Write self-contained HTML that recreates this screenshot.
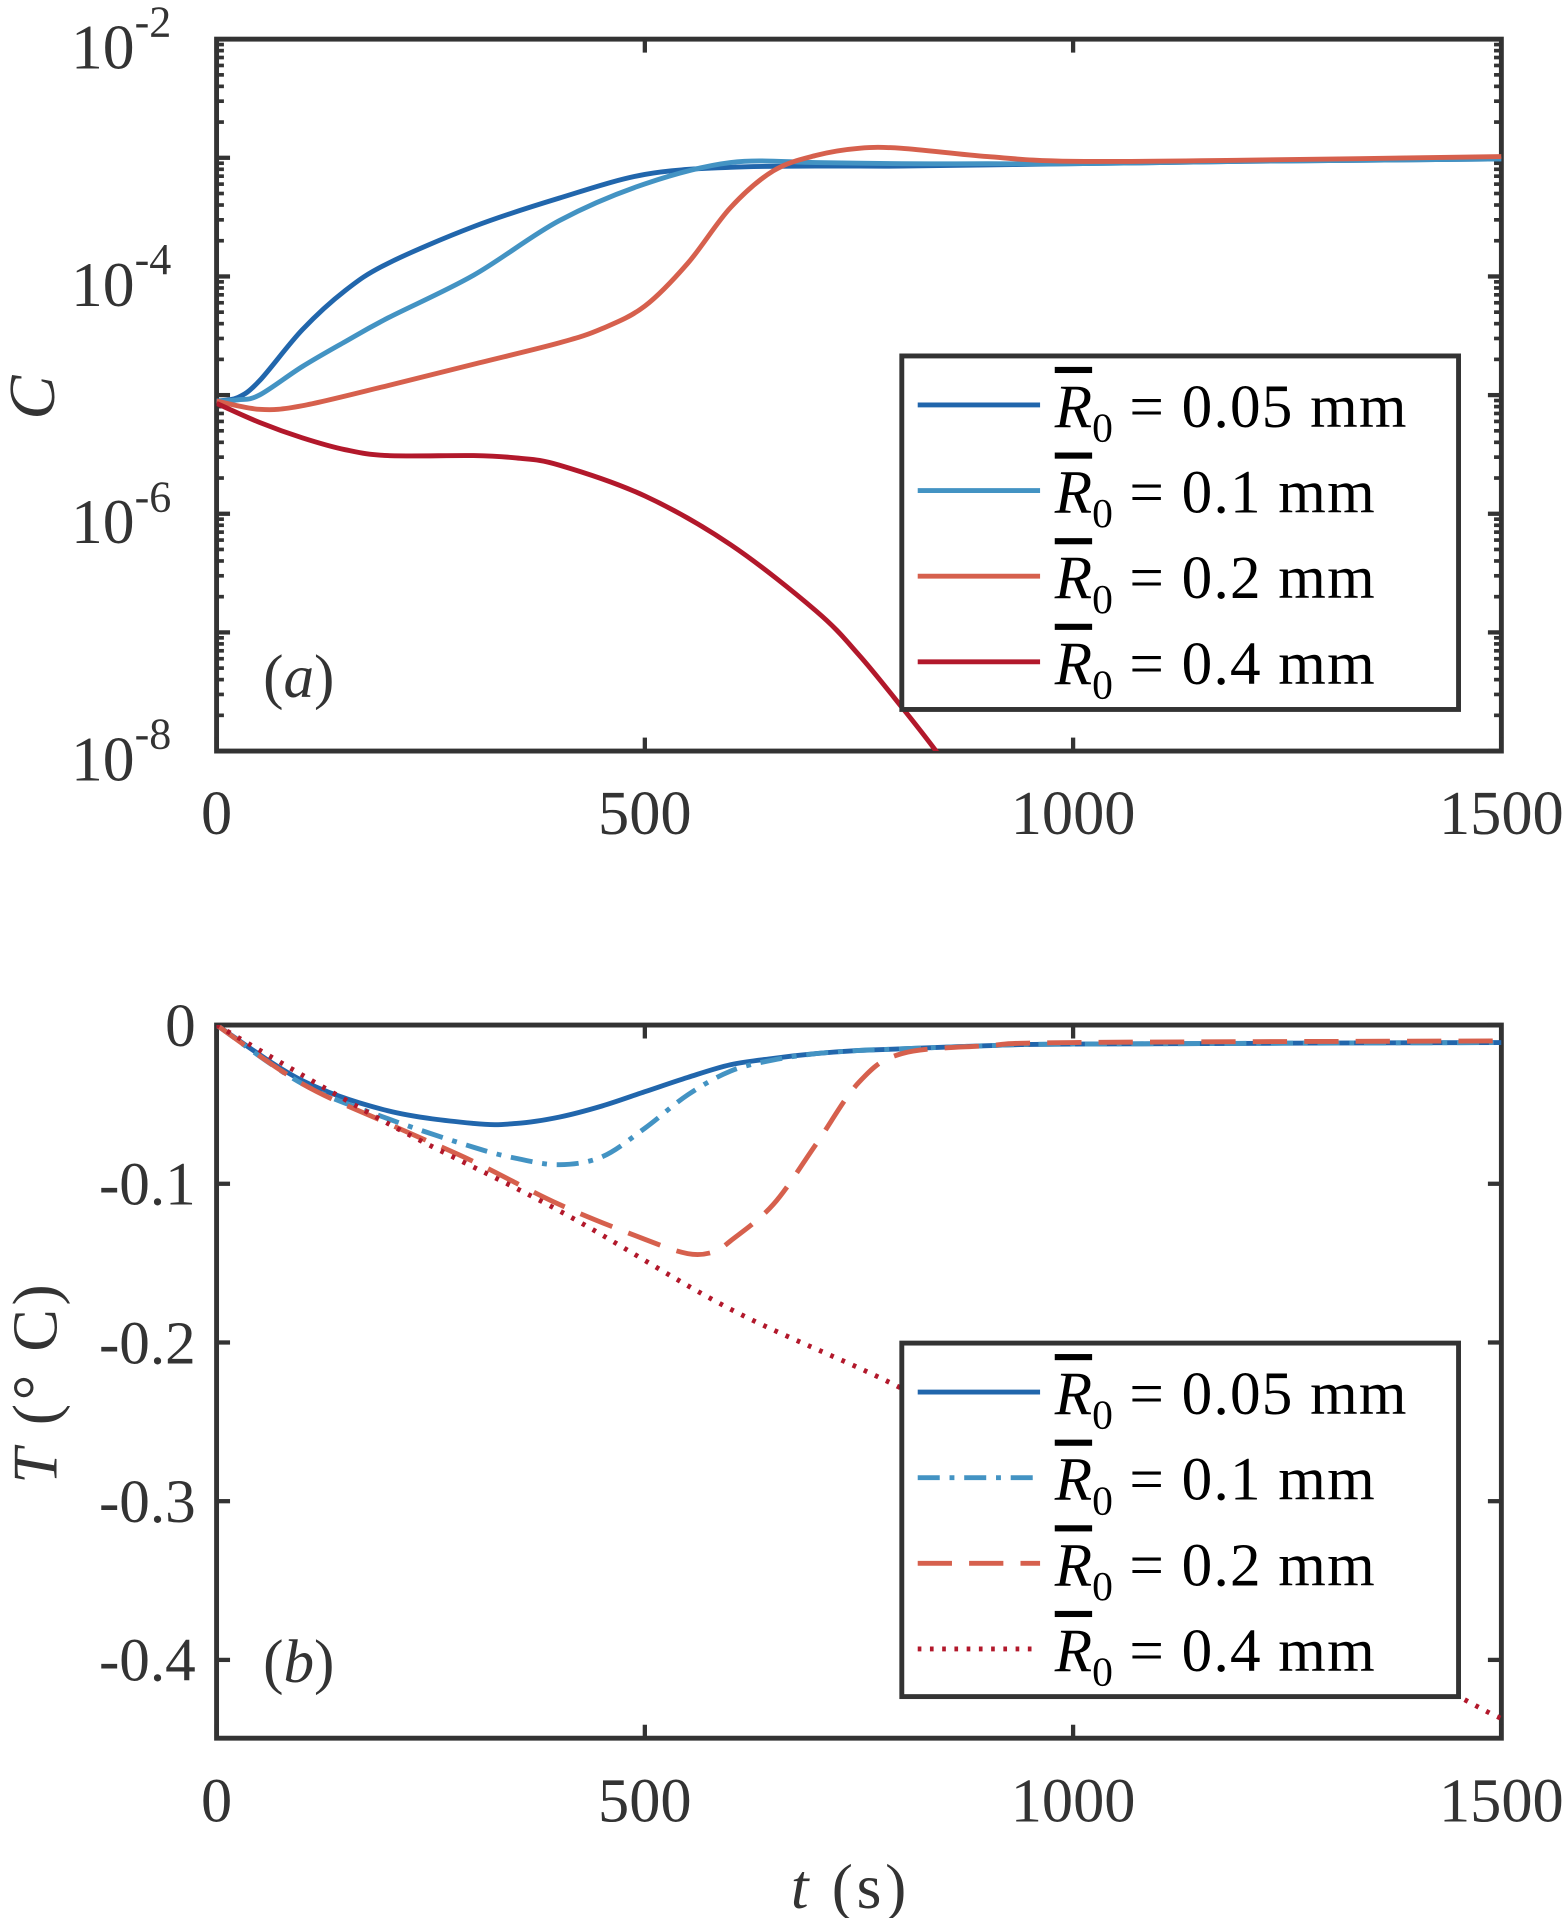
<!DOCTYPE html>
<html><head><meta charset="utf-8"><style>
html,body{margin:0;padding:0;background:#fff;}
svg{display:block;}
text{font-family:"Liberation Serif",serif;fill:#333;}
</style></head><body>
<svg id="c" width="1565" height="1918" viewBox="0 0 1279 1568" preserveAspectRatio="none" xmlns="http://www.w3.org/2000/svg">
<defs>
<clipPath id="clipA"><rect x="177" y="32" width="1050" height="582"/></clipPath>
<clipPath id="clipB"><rect x="177" y="838" width="1050" height="584"/></clipPath>
</defs>
</svg>
<script>
// ---- data ----
const labels = ["0.05", "0.1", "0.2", "0.4"];
const colors = ["#2166ac", "#4393c3", "#d6604d", "#b2182b"];
const tA = [0,25,50,100,150,200,300,400,500,600,700,800,900,1000,1200,1500];
const logC005 = [-5.05,-5.02,-4.88,-4.45,-4.12,-3.89,-3.58,-3.34,-3.14,-3.08,-3.07,-3.07,-3.06,-3.05,-3.03,-3.01];
const logC01  = [-5.05,-5.04,-5.0,-4.76,-4.55,-4.35,-3.99,-3.53,-3.22,-3.04,-3.04,-3.05,-3.05,-3.05,-3.03,-3.01];
const tA2 = [0,50,100,200,300,400,450,500,550,600,650,700,750,800,900,1000,1200,1500];
const logC02  = [-5.05,-5.12,-5.09,-4.92,-4.74,-4.56,-4.44,-4.25,-3.89,-3.42,-3.11,-2.98,-2.92,-2.92,-2.99,-3.03,-3.02,-2.99];
const tA4 = [0,50,100,150,200,300,350,400,500,600,700,750,800,840,880];
const logC04  = [-5.07,-5.23,-5.36,-5.46,-5.51,-5.51,-5.53,-5.59,-5.85,-6.26,-6.82,-7.19,-7.63,-8.0,-8.4];
const tB = [0,100,200,300,350,400,450,500,550,600,650,700,750,800,900,1000,1500];
const T005 = [0,-0.035,-0.054,-0.062,-0.062,-0.058,-0.051,-0.042,-0.033,-0.025,-0.021,-0.018,-0.016,-0.015,-0.013,-0.012,-0.011];
const T01  = [0,-0.037,-0.059,-0.077,-0.084,-0.088,-0.083,-0.065,-0.044,-0.029,-0.022,-0.018,-0.016,-0.015,-0.013,-0.012,-0.011];
const tB2 = [0,100,200,300,400,500,550,580,600,650,700,750,800,900,1000,1500];
const T02  = [0,-0.037,-0.062,-0.086,-0.113,-0.135,-0.144,-0.143,-0.136,-0.113,-0.075,-0.036,-0.018,-0.013,-0.011,-0.010];
const tB4 = [0,200,400,600,800,1000,1200,1450,1500];
const T04  = [0,-0.062,-0.117,-0.179,-0.229,-0.289,-0.349,-0.423,-0.437];
const xTicks = [0,500,1000,1500];
const aTickExp = [-2,-4,-6,-8];
const bTicks = [0,-0.1,-0.2,-0.3,-0.4];
const bTickLabels = ["0","-0.1","-0.2","-0.3","-0.4"];

// ---- axes ----
const X0=177, X1=1227;
const xs = t => X0 + (t/1500)*(X1-X0);
const yA = l => 32 + (-2 - l)*97;
const yB = v => 838 + (-v)*1297.5;

const svg = document.getElementById('c');
const NS = "http://www.w3.org/2000/svg";
function mk(tag, attrs, parent){ const e=document.createElementNS(NS,tag); for(const k in attrs) e.setAttribute(k,attrs[k]); (parent||svg).appendChild(e); return e; }

function smoothPath(pts){
  let d = `M${pts[0][0]},${pts[0][1]}`;
  for(let i=0;i<pts.length-1;i++){
    const p0=pts[Math.max(0,i-1)], p1=pts[i], p2=pts[i+1], p3=pts[Math.min(pts.length-1,i+2)];
    const c1=[p1[0]+(p2[0]-p0[0])/6, p1[1]+(p2[1]-p0[1])/6];
    const c2=[p2[0]-(p3[0]-p1[0])/6, p2[1]-(p3[1]-p1[1])/6];
    d+=` C${c1[0]},${c1[1]} ${c2[0]},${c2[1]} ${p2[0]},${p2[1]}`;
  }
  return d;
}
function series(ts, vs, yf, color, dash, clip, name){
  const pts = ts.map((t,i)=>[xs(t), yf(vs[i])]);
  const p = mk('path',{d:smoothPath(pts),fill:'none',stroke:color,'stroke-width':4,'stroke-dasharray':dash||'none','clip-path':`url(#${clip})`});
  
  
}

function frame(top,bottom,name){
  const r = mk('rect',{x:X0,y:top,width:X1-X0,height:bottom-top,fill:'none',stroke:'#333','stroke-width':4});
  
  
  xTicks.forEach(t=>{
    mk('line',{x1:xs(t),x2:xs(t),y1:bottom,y2:bottom-11,stroke:'#333','stroke-width':3.5});
    mk('line',{x1:xs(t),x2:xs(t),y1:top,y2:top+11,stroke:'#333','stroke-width':3.5});
    const tx = mk('text',{x:xs(t),y:bottom+68,'text-anchor':'middle','font-size':51});
    tx.textContent = t;
    
    
  });
}

// ---- panel a ----
frame(32,614,'panel-a-frame');
for(let e=-8;e<=-2;e++){
  mk('line',{x1:X0,x2:X0+11,y1:yA(e),y2:yA(e),stroke:'#333','stroke-width':3.5});
  mk('line',{x1:X1,x2:X1-11,y1:yA(e),y2:yA(e),stroke:'#333','stroke-width':3.5});
  if(e<-2) for(let k=2;k<=9;k++){
    const l=e+Math.log10(k);
    mk('line',{x1:X0,x2:X0+6,y1:yA(l),y2:yA(l),stroke:'#333','stroke-width':3});
    mk('line',{x1:X1,x2:X1-6,y1:yA(l),y2:yA(l),stroke:'#333','stroke-width':3});
  }
}
aTickExp.forEach(e=>{
  const tx = mk('text',{x:140,y:yA(e)+24,'text-anchor':'end','font-size':52});
  tx.textContent = '10';
  const s = mk('tspan',{dy:-26,'font-size':36},tx); s.textContent = String(e);
  
  
});
series(tA,logC005,yA,colors[0],null,'clipA','series-a-005');
series(tA,logC01,yA,colors[1],null,'clipA','series-a-01');
series(tA2,logC02,yA,colors[2],null,'clipA','series-a-02');
series(tA4,logC04,yA,colors[3],null,'clipA','series-a-04');

// ---- panel b ----
frame(838,1421,'panel-b-frame');
bTicks.forEach((v,i)=>{
  mk('line',{x1:X0,x2:X0+11,y1:yB(v),y2:yB(v),stroke:'#333','stroke-width':3.5});
  mk('line',{x1:X1,x2:X1-11,y1:yB(v),y2:yB(v),stroke:'#333','stroke-width':3.5});
  const tx = mk('text',{x:160,y:yB(v)+17,'text-anchor':'end','font-size':50});
  tx.textContent = bTickLabels[i];
  
  
});
series(tB,T005,yB,colors[0],null,'clipB','series-b-005');
series(tB,T01,yB,colors[1],'18,8,4,8','clipB','series-b-01');
series(tB2,T02,yB,colors[2],'28,14','clipB','series-b-02');
series(tB4,T04,yB,colors[3],'3,7','clipB','series-b-04');

// ---- legends ----
function legend(top, dashes, name){
  const g = mk('g',{});
  
  
  mk('rect',{x:737,y:top,width:455,height:289,fill:'#fff',stroke:'#333','stroke-width':4},g);
  labels.forEach((lab,i)=>{
    const cy = top+40+i*70;
    mk('line',{x1:750,x2:850,y1:cy,y2:cy,stroke:colors[i],'stroke-width':4,'stroke-dasharray':dashes[i]||'none'},g);
    const tx = mk('text',{x:862,y:cy+18,'font-size':50,style:'fill:#000'},g);
    const r = mk('tspan',{'font-style':'italic','text-decoration':'overline'},tx); r.textContent='R';
    const s = mk('tspan',{dy:12,'font-size':34},tx); s.textContent='0';
    const rest = mk('tspan',{dy:-12,'letter-spacing':'1'},tx); rest.textContent=' = '+lab+' mm';
  });
}
legend(291,[null,null,null,null],'legend-a');
legend(1098,[null,'18,8,4,8','28,14','3,7'],'legend-b');

// ---- labels ----
function txt(str,attrs,name){ const t=mk('text',attrs); t.textContent=str;   return t; }
txt('',{x:215,y:570,'font-size':50},'panel-a-label').innerHTML='(<tspan font-style="italic">a</tspan>)';
txt('',{x:215,y:1375,'font-size':50},'panel-b-label').innerHTML='(<tspan font-style="italic">b</tspan>)';
txt('C',{x:0,y:0,'font-size':54,'font-style':'italic',transform:'translate(44,325) rotate(-90)','text-anchor':'middle'},'y-axis-title-a');
const tT = txt('',{x:0,y:0,'font-size':52,transform:'translate(46,1130) rotate(-90)','text-anchor':'middle','letter-spacing':'3'},'y-axis-title-b');
tT.innerHTML='<tspan font-style="italic">T</tspan> (° C)';
const tX = txt('',{x:695,y:1560,'font-size':52,'text-anchor':'middle','letter-spacing':'3'},'x-axis-title');
tX.innerHTML='<tspan font-style="italic">t</tspan> (s)';
</script>
</body></html>
